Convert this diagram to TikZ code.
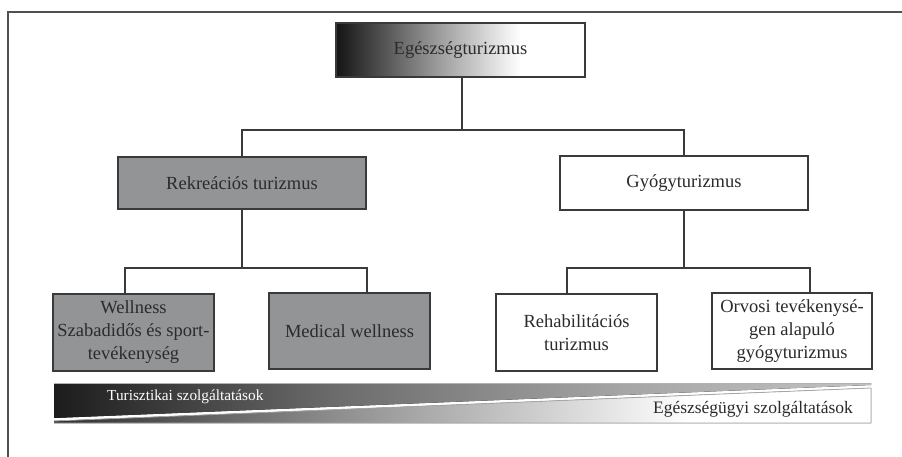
\documentclass[tikz,border=0pt]{standalone}
\usepackage{fontspec}
\setmainfont{Liberation Serif}
\definecolor{boxline}{HTML}{3A3A3A}
\definecolor{boxgray}{HTML}{939496}
\definecolor{txt}{HTML}{2B2B2B}
\definecolor{framec}{HTML}{505050}
\pgfdeclarehorizontalshading{topgrad}{100bp}{color(0bp)=(black!92); color(25bp)=(black!92); color(45bp)=(black!40); color(62bp)=(white); color(100bp)=(white)}
\pgfdeclarehorizontalshading{upgrad}{100bp}{color(0bp)=(black!89); color(25bp)=(black!89); color(42bp)=(black!58); color(60bp)=(black!35); color(75bp)=(black!24); color(100bp)=(black!20)}
\pgfdeclarehorizontalshading{lowgrad}{100bp}{color(0bp)=(black!82); color(25bp)=(black!82); color(42bp)=(black!45); color(64bp)=(white); color(100bp)=(white)}
\tikzset{
  box/.style={draw=boxline, line width=1.3pt, inner sep=0pt, align=center, text=txt,
    font=\fontsize{18.5}{23}\selectfont},
  graybox/.style={box, fill=boxgray},
  wire/.style={draw=boxline, line width=1.3pt},
  bartext/.style={inner sep=0pt}
}
\begin{document}
\begin{tikzpicture}[x=1pt,y=-1pt]
\useasboundingbox (0,0) rectangle (902,457);
% frame
\draw[framec, line width=1.6pt] (8,457) -- (8,12) -- (902,12);
% nodes
\node[box, shading=topgrad, minimum width=249pt, minimum height=54pt] (top) at (460.5,50) {Egészségturizmus};
\node[graybox, minimum width=248pt, minimum height=52pt] (rek) at (242,183) {Rekreációs turizmus};
\node[box, fill=white, minimum width=248pt, minimum height=54pt] (gy) at (684,183) {Gyógyturizmus};
\node[graybox, minimum width=161pt, minimum height=77pt] (wel) at (133.5,332.5) {Wellness\\Szabadidős és sport-\\tevékenység};
\node[graybox, minimum width=161pt, minimum height=76pt] (med) at (349.5,331) {Medical wellness};
\node[box, fill=white, minimum width=161pt, minimum height=77pt] (reh) at (576.5,332.5) {Rehabilitációs\\turizmus};
\node[box, fill=white, minimum width=160pt, minimum height=76pt] (orv) at (792,331) {Orvosi tevékenysé-\\gen alapuló\\gyógyturizmus};
% connectors
\coordinate (j0) at (462,130);
\coordinate (ja) at (242,130);
\coordinate (jb) at (684,130);
\draw[wire] (j0 |- top.south) -- (j0);
\draw[wire] (ja |- rek.north) -- (ja) -- (jb) -- (jb |- gy.north);
\coordinate (l0) at (242,268);
\coordinate (l1) at (125,268);
\coordinate (l2) at (367,268);
\draw[wire] (rek.south) -- (l0);
\draw[wire] (l1 |- wel.north) -- (l1) -- (l2) -- (l2 |- med.north);
\coordinate (r0) at (684,268);
\coordinate (r1) at (567,268);
\coordinate (r2) at (810,268);
\draw[wire] (gy.south) -- (r0);
\draw[wire] (r1 |- reh.north) -- (r1) -- (r2) -- (r2 |- orv.north);
% bottom bar
\coordinate (b1) at (54,383);
\coordinate (b2) at (871,383);
\coordinate (b3) at (871,385);
\coordinate (b4) at (54,418);
\coordinate (c1) at (54,421);
\coordinate (c2) at (871,388);
\coordinate (c3) at (871,423);
\coordinate (c4) at (54,423);
\fill[shading=upgrad] (b1) -- (b2) -- (b3) -- (b4) -- cycle;
\draw[black!30, line width=0.7pt] (b1) -- (b2);
\fill[shading=lowgrad] (c1) -- (c2) -- (c3) -- (c4) -- cycle;
\draw[black!35, line width=0.8pt] (c1) -- (c2) -- (c3) -- (c4);
\node[bartext, text=white, anchor=west, font=\fontsize{15.3}{17}\selectfont] (t1) at (107,397) {Turisztikai szolgáltatások};
\node[bartext, text=txt, anchor=east, font=\fontsize{17.5}{20}\selectfont] (t2) at (853,409) {Egészségügyi szolgáltatások};
\end{tikzpicture}
\end{document}
